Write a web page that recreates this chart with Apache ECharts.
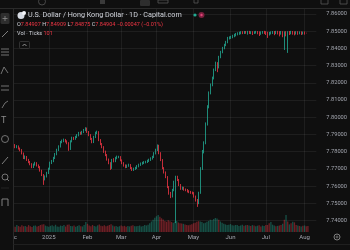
<!DOCTYPE html>
<html><head><meta charset="utf-8">
<script src="https://cdn.jsdelivr.net/npm/echarts@6/dist/echarts.min.js"></script>
<style>html,body{margin:0;padding:0;background:#0f0f0f}#c{width:350px;height:250px}</style>
</head><body><div id="c"></div>
<script>
// ---- data ----
const startDate = '2024-11-21';   // first weekday slot (hidden behind left toolbar)
const slotCount = 190;
const firstCandleIndex = 7;       // 2024-12-02
const tickDates = ['2024-12-02','2025-01-01','2025-02-03','2025-03-03','2025-04-01','2025-05-01','2025-06-02','2025-07-01','2025-08-01'];
const tickLabels = ['Dec','2025','Feb','Mar','Apr','May','Jun','Jul','Aug'];

const opens = [
7.7828,7.7835,7.7839,7.7827,7.7832,7.7818,7.7810,7.7790,7.7763,7.7770,
7.7752,7.7740,7.7728,7.7711,7.7725,7.7734,7.7720,7.7711,7.7690,7.7665,
7.7640,7.7655,7.7676,7.7700,7.7735,7.7745,7.7763,7.7785,7.7810,7.7830,
7.7856,7.7862,7.7868,7.7860,7.7850,7.7815,7.7860,7.7880,7.7875,7.7885,
7.7895,7.7909,7.7905,7.7914,7.7925,7.7935,7.7915,7.7897,7.7875,7.7856,
7.7885,7.7909,7.7914,7.7868,7.7845,7.7827,7.7800,7.7781,7.7755,7.7734,
7.7705,7.7752,7.7745,7.7763,7.7769,7.7769,7.7750,7.7734,7.7720,7.7711,
7.7718,7.7723,7.7705,7.7694,7.7700,7.7705,7.7715,7.7723,7.7730,7.7734,
7.7738,7.7740,7.7746,7.7752,7.7760,7.7769,7.7790,7.7810,7.7835,7.7792,
7.7752,7.7705,7.7680,7.7653,7.7595,7.7560,7.7540,7.7577,7.7624,7.7653,
7.7636,7.7607,7.7585,7.7590,7.7580,7.7577,7.7570,7.7566,7.7562,7.7560,
7.7540,7.7519,7.7500,7.7560,7.7700,7.7800,7.7850,7.7960,7.8060,7.8141,
7.8188,7.8228,7.8275,7.8315,7.8290,7.8350,7.8379,7.8402,7.8420,7.8437,
7.8461,7.8463,7.8466,7.8472,7.8478,7.8483,7.8487,7.8490,7.8495,7.8492,
7.8497,7.8494,7.8498,7.8493,7.8496,7.8491,7.8495,7.8498,7.8494,7.8490,
7.8493,7.8497,7.8495,7.8492,7.8486,7.8490,7.8494,7.8496,7.8493,7.8497,
7.8495,7.8492,7.8496,7.8490,7.8494,7.8491,7.8495,7.8493,7.8497,7.8494,
7.8491,7.8495,7.8492,7.8494,7.8491,7.8493,7.84907
];
const closes = [
7.7835,7.7839,7.7827,7.7832,7.7818,7.7810,7.7790,7.7763,7.7770,7.7752,
7.7740,7.7728,7.7711,7.7725,7.7734,7.7720,7.7711,7.7690,7.7665,7.7640,
7.7655,7.7676,7.7700,7.7735,7.7745,7.7763,7.7785,7.7810,7.7830,7.7856,
7.7862,7.7868,7.7860,7.7850,7.7815,7.7860,7.7880,7.7875,7.7885,7.7895,
7.7909,7.7905,7.7914,7.7925,7.7935,7.7915,7.7897,7.7875,7.7856,7.7885,
7.7909,7.7914,7.7868,7.7845,7.7827,7.7800,7.7781,7.7755,7.7734,7.7705,
7.7752,7.7745,7.7763,7.7769,7.7769,7.7750,7.7734,7.7720,7.7711,7.7718,
7.7723,7.7705,7.7694,7.7700,7.7705,7.7715,7.7723,7.7730,7.7734,7.7738,
7.7740,7.7746,7.7752,7.7760,7.7769,7.7790,7.7810,7.7835,7.7792,7.7752,
7.7705,7.7680,7.7653,7.7595,7.7560,7.7540,7.7577,7.7624,7.7653,7.7636,
7.7607,7.7585,7.7590,7.7580,7.7577,7.7570,7.7566,7.7562,7.7560,7.7540,
7.7519,7.7500,7.7560,7.7700,7.7800,7.7850,7.7960,7.8060,7.8141,7.8188,
7.8228,7.8275,7.8315,7.8290,7.8350,7.8379,7.8402,7.8420,7.8437,7.8461,
7.8463,7.8466,7.8472,7.8478,7.8483,7.8487,7.8490,7.8495,7.8492,7.8497,
7.8494,7.8498,7.8493,7.8496,7.8491,7.8495,7.8498,7.8494,7.8490,7.8493,
7.8497,7.8495,7.8492,7.8486,7.8490,7.8494,7.8496,7.8493,7.8497,7.8495,
7.8492,7.8496,7.8490,7.8494,7.8491,7.8495,7.8493,7.8497,7.8494,7.8491,
7.8495,7.8492,7.8494,7.8491,7.8493,7.84907,7.84904
];
const highs = [
7.7842,7.7846,7.7844,7.7838,7.7836,7.7824,7.7815,7.7795,7.7778,7.7775,
7.7758,7.7746,7.7733,7.7731,7.7741,7.7739,7.7726,7.7716,7.7695,7.7670,
7.7662,7.7683,7.7707,7.7742,7.7752,7.7770,7.7792,7.7817,7.7837,7.7862,
7.7870,7.7876,7.7874,7.7866,7.7855,7.7866,7.7887,7.7886,7.7892,7.7902,
7.7915,7.7916,7.7921,7.7932,7.7942,7.7940,7.7920,7.7902,7.7880,7.7892,
7.7916,7.7922,7.7919,7.7873,7.7850,7.7832,7.7806,7.7786,7.7760,7.7739,
7.7758,7.7762,7.7770,7.7777,7.7776,7.7774,7.7755,7.7739,7.7726,7.7725,
7.7730,7.7728,7.7710,7.7707,7.7712,7.7722,7.7730,7.7737,7.7741,7.7745,
7.7747,7.7753,7.7759,7.7767,7.7776,7.7797,7.7817,7.7842,7.7840,7.7797,
7.7757,7.7710,7.7685,7.7658,7.7600,7.7566,7.7584,7.7631,7.7660,7.7660,
7.7641,7.7612,7.7597,7.7596,7.7586,7.7583,7.7576,7.7572,7.7568,7.7565,
7.7545,7.7525,7.7567,7.7710,7.7810,7.7860,7.7970,7.8070,7.8150,7.8196,
7.8236,7.8283,7.8323,7.8320,7.8357,7.8386,7.8409,7.8427,7.8444,7.8467,
7.8470,7.8473,7.8479,7.8485,7.8490,7.8494,7.8497,7.8500,7.8500,7.8501,
7.8501,7.8502,7.8502,7.8500,7.8500,7.8500,7.8502,7.8501,7.8499,7.8499,
7.8501,7.8502,7.8500,7.8497,7.8496,7.8499,7.8501,7.8501,7.8502,7.8502,
7.8500,7.8501,7.8500,7.8499,7.8500,7.8500,7.8501,7.8502,7.8501,7.8499,
7.8500,7.8500,7.8499,7.8499,7.8498,7.8498,7.84909
];
const lows = [
7.7822,7.7828,7.7820,7.7820,7.7812,7.7802,7.7784,7.7757,7.7756,7.7746,
7.7733,7.7721,7.7704,7.7705,7.7719,7.7714,7.7704,7.7684,7.7658,7.7607,
7.7633,7.7650,7.7670,7.7695,7.7728,7.7739,7.7757,7.7779,7.7804,7.7824,
7.7849,7.7855,7.7853,7.7843,7.7805,7.7810,7.7854,7.7868,7.7869,7.7879,
7.7889,7.7898,7.7899,7.7908,7.7919,7.7909,7.7890,7.7868,7.7849,7.7850,
7.7879,7.7902,7.7861,7.7838,7.7820,7.7793,7.7774,7.7748,7.7727,7.7694,
7.7700,7.7738,7.7739,7.7756,7.7762,7.7744,7.7727,7.7713,7.7704,7.7705,
7.7712,7.7699,7.7688,7.7688,7.7694,7.7699,7.7709,7.7717,7.7724,7.7728,
7.7732,7.7734,7.7740,7.7746,7.7754,7.7763,7.7784,7.7804,7.7785,7.7745,
7.7698,7.7673,7.7646,7.7588,7.7550,7.7530,7.7534,7.7570,7.7385,7.7629,
7.7600,7.7578,7.7578,7.7573,7.7570,7.7563,7.7559,7.7555,7.7552,7.7533,
7.7510,7.7479,7.7495,7.7555,7.7694,7.7790,7.7843,7.7952,7.8052,7.8133,
7.8180,7.8220,7.8268,7.8262,7.8284,7.8343,7.8372,7.8395,7.8413,7.8430,
7.8452,7.8455,7.8459,7.8465,7.8470,7.8476,7.8479,7.8482,7.8483,7.8484,
7.8485,7.8480,7.8484,7.8483,7.8478,7.8484,7.8486,7.8482,7.8472,7.8479,
7.8485,7.8484,7.8478,7.8461,7.8475,7.8481,7.8484,7.8477,7.8483,7.8481,
7.8470,7.8480,7.8465,7.8391,7.8470,7.8374,7.8478,7.8482,7.8480,7.8476,
7.8481,7.8479,7.8482,7.8478,7.8481,7.8480,7.84875
];
const volumes = [
95,110,88,120,102,92,115,98,105,90,118,100,86,108,
112,95,104,120,128,135,110,98,92,106,115,100,124,96,88,110,102,118,94,125,
130,105,98,112,90,104,116,100,95,122,170,140,110,98,120,105,96,114,128,108,
100,115,98,106,120,132,110,96,104,92,100,112,98,106,90,102,95,108,115,100,
98,105,110,96,104,118,112,125,150,180,210,245,270,290,260,235,215,190,175,200,
185,170,160,175,190,165,150,145,140,130,120,115,125,135,150,160,175,185,180,170,
150,160,175,190,210,200,225,240,230,210,180,160,140,130,120,125,135,115,110,120,
118,105,112,125,108,115,120,110,104,118,112,100,108,115,96,110,104,118,120,150,
170,125,110,98,105,112,120,140,210,290,180,130,150,175,165,118,110,104,96,108,112,100,101
];
const lastClose = 7.84904;
const lastVolume = 101;

// ---- build ----
function weekdays(start, n) {
  const out = []; const d = new Date(start + 'T00:00:00Z');
  while (out.length < n) { const w = d.getUTCDay(); if (w !== 0 && w !== 6) out.push(d.toISOString().slice(0, 10)); d.setUTCDate(d.getUTCDate() + 1); }
  return out;
}
const dates = weekdays(startDate, slotCount);
const tickMap = {}; tickDates.forEach((d, i) => tickMap[d] = tickLabels[i]);
const isTick = (idx, val) => tickMap[val] !== undefined;

const UP = '#22ab94', DOWN = '#f23645';
const candleData = dates.map(() => '-');
const volData = dates.map(() => '-');
for (let k = 0; k < closes.length; k++) {
  const i = firstCandleIndex + k;
  candleData[i] = [opens[k], closes[k], lows[k], highs[k]];
  volData[i] = { value: volumes[k], itemStyle: { color: closes[k] >= opens[k] ? 'rgba(34,171,148,0.42)' : 'rgba(242,54,69,0.42)' } };
}

const FONT = 'Roboto, "Liberation Sans", sans-serif';
const AXC = '#a3a6af';
const GRIDC = 'rgba(242,242,242,0.07)';
const ICON = '#8c8c8c';

const chart = echarts.init(document.getElementById('c'), null, { renderer: 'canvas' });
chart.setOption({
  animation: false,
  backgroundColor: '#0f0f0f',
  textStyle: { fontFamily: FONT },
  grid: [
    { left: 0, right: 32, top: 14, height: 206.5 },
    { left: 0, right: 32, top: 190, height: 42 },
    { left: 0, right: 32, top: 9, height: 223 }
  ],
  xAxis: [
    { type: 'category', gridIndex: 0, data: dates, boundaryGap: false, axisLine: { show: false }, axisTick: { show: false }, axisLabel: { show: false }, splitLine: { show: false } },
    { type: 'category', gridIndex: 1, data: dates, boundaryGap: false, axisLine: { show: false }, axisTick: { show: false }, splitLine: { show: false },
      axisLabel: { interval: isTick, formatter: v => tickMap[v] || '', color: AXC, fontSize: 6, fontFamily: FONT, margin: 2 } },
    { type: 'category', gridIndex: 2, data: dates, boundaryGap: false, axisLine: { show: false }, axisTick: { show: false }, axisLabel: { show: false },
      splitLine: { show: true, interval: isTick, lineStyle: { color: GRIDC, width: 1 } } }
  ],
  yAxis: [
    { type: 'value', gridIndex: 0, position: 'right', min: 7.74, max: 7.86, interval: 0.01, scale: true,
      axisLine: { show: false }, axisTick: { show: false },
      axisLabel: { color: AXC, fontSize: 5.7, fontFamily: FONT, margin: 10, formatter: v => v.toFixed(5) },
      splitLine: { lineStyle: { color: GRIDC, width: 1 } } },
    { type: 'value', gridIndex: 1, min: 0, max: 720, show: false },
    { type: 'value', gridIndex: 2, min: 0, max: 1, show: false }
  ],
  series: [
    { type: 'candlestick', xAxisIndex: 0, yAxisIndex: 0, data: candleData, barWidth: 1.2, clip: false,
      itemStyle: { color: UP, color0: DOWN, borderColor: UP, borderColor0: DOWN, borderWidth: 0.8 },
      markLine: { silent: true, symbol: ['none', 'none'], lineStyle: { opacity: 0 },
        label: { show: true, position: 'end', distance: 6, formatter: lastClose.toFixed(5), backgroundColor: '#f23645', color: '#ffffff', fontSize: 5.7, fontFamily: FONT, padding: [1.5, 2, 1, 2] },
        data: [{ yAxis: lastClose }] } },
    { type: 'bar', xAxisIndex: 1, yAxisIndex: 1, data: volData, barWidth: 1.3,
      markLine: { silent: true, symbol: ['none', 'none'], lineStyle: { opacity: 0 },
        label: { show: true, position: 'end', distance: 10, formatter: String(lastVolume), backgroundColor: '#f7525f', color: '#ffffff', fontSize: 5.7, fontFamily: FONT, padding: [1.5, 2, 1, 2] },
        data: [{ yAxis: lastVolume }] } }
  ],
  graphic: [
    // left toolbar
    { type: 'rect', z: 100, shape: { x: 0, y: 9, width: 13.5, height: 241 }, style: { fill: '#0f0f0f' } },
    { type: 'line', z: 101, shape: { x1: 13.5, y1: 9, x2: 13.5, y2: 250 }, style: { stroke: '#2a2a2a', lineWidth: 1 } },
    // top toolbar
    { type: 'rect', z: 100, shape: { x: 0, y: 0, width: 350, height: 8.5 }, style: { fill: '#0f0f0f' } },
    { type: 'line', z: 101, shape: { x1: 0, y1: 8.5, x2: 350, y2: 8.5 }, style: { stroke: '#2a2a2a', lineWidth: 1 } },
    { type: 'circle', z: 101, shape: { cx: 42, cy: 1.5, r: 3.5 }, style: { fill: 'none', stroke: '#555', lineWidth: 0.8 } },
    { type: 'rect', z: 101, shape: { x: 100, y: 0, width: 5, height: 4 }, style: { fill: '#3a3a3a' } },
    { type: 'rect', z: 101, shape: { x: 140, y: 0, width: 10, height: 6, r: 1 }, style: { fill: '#2e2e2e' } },
    { type: 'rect', z: 101, shape: { x: 158, y: 0, width: 10, height: 3 }, style: { fill: 'none', stroke: '#555', lineWidth: 0.8 } },
    { type: 'rect', z: 101, shape: { x: 194, y: -1, width: 4, height: 4 }, style: { fill: 'none', stroke: '#555', lineWidth: 0.8 } },
    { type: 'rect', z: 101, shape: { x: 321, y: -2, width: 7, height: 6 }, style: { fill: 'none', stroke: '#555', lineWidth: 0.8 } },
    { type: 'rect', z: 101, shape: { x: 340, y: -2, width: 7, height: 6 }, style: { fill: 'none', stroke: '#555', lineWidth: 0.8 } },
    // left toolbar icons
    { type: 'rect', z: 101, shape: { x: 0.5, y: 13, width: 9, height: 11, r: 1.5 }, style: { fill: '#2e2e2e' } },
    { type: 'polyline', z: 102, shape: { points: [[2.5, 18.5], [7.5, 18.5]] }, style: { stroke: ICON, lineWidth: 0.8 } },
    { type: 'polyline', z: 102, shape: { points: [[5, 16], [5, 21]] }, style: { stroke: ICON, lineWidth: 0.8 } },
    { type: 'polyline', z: 101, shape: { points: [[2, 37], [8, 31]] }, style: { stroke: ICON, lineWidth: 0.9 } },
    { type: 'polyline', z: 101, shape: { points: [[1, 49], [9, 49]] }, style: { stroke: ICON, lineWidth: 0.8 } },
    { type: 'polyline', z: 101, shape: { points: [[1, 52], [9, 52]] }, style: { stroke: ICON, lineWidth: 0.8 } },
    { type: 'polyline', z: 101, shape: { points: [[1, 55], [9, 55]] }, style: { stroke: ICON, lineWidth: 0.8 } },
    { type: 'polyline', z: 101, shape: { points: [[1, 74], [4, 67], [8, 73]] }, style: { stroke: ICON, lineWidth: 0.8 } },
    { type: 'polyline', z: 101, shape: { points: [[1, 86], [9, 86]] }, style: { stroke: ICON, lineWidth: 0.8 } },
    { type: 'polyline', z: 101, shape: { points: [[1, 90], [9, 90]] }, style: { stroke: ICON, lineWidth: 0.8 } },
    { type: 'polyline', z: 101, shape: { points: [[2, 108], [5, 103], [8, 101]] }, style: { stroke: ICON, lineWidth: 0.8 } },
    { type: 'text', z: 101, x: 1, y: 121, style: { text: 'T', fill: ICON, font: '9px ' + FONT, verticalAlign: 'middle' } },
    { type: 'circle', z: 101, shape: { cx: 5, cy: 139, r: 3.5 }, style: { fill: 'none', stroke: ICON, lineWidth: 0.8 } },
    { type: 'polyline', z: 101, shape: { points: [[2, 164], [8, 157]] }, style: { stroke: ICON, lineWidth: 0.9 } },
    { type: 'circle', z: 101, shape: { cx: 5, cy: 177, r: 3 }, style: { fill: 'none', stroke: ICON, lineWidth: 0.8 } },
    { type: 'polyline', z: 101, shape: { points: [[7, 179], [9, 181]] }, style: { stroke: ICON, lineWidth: 0.8 } },
    { type: 'polyline', z: 101, shape: { points: [[1, 188], [9, 188]] }, style: { stroke: '#2a2a2a', lineWidth: 0.8 } },
    { type: 'polyline', z: 101, shape: { points: [[2, 206], [2, 199], [8, 199], [8, 206]] }, style: { stroke: ICON, lineWidth: 0.9, fill: 'none' } },
    // legend
    { type: 'circle', z: 101, shape: { cx: 21, cy: 15.5, r: 3.5 }, style: { fill: '#d6dbe3' } },
    { type: 'circle', z: 102, shape: { cx: 24, cy: 13, r: 2 }, style: { fill: '#f4f6f9' } },
    { type: 'text', z: 101, x: 28, y: 15.5, style: { text: 'U.S. Dollar / Hong Kong Dollar · 1D · Capital.com', fill: '#d1d4dc', font: '7.2px ' + FONT, verticalAlign: 'middle' } },
    { type: 'circle', z: 101, shape: { cx: 195, cy: 15, r: 1.6 }, style: { fill: '#22ab94' } },
    { type: 'circle', z: 101, shape: { cx: 201.5, cy: 15, r: 3 }, style: { fill: '#7a1f3d' } },
    { type: 'circle', z: 102, shape: { cx: 201.5, cy: 15, r: 1.2 }, style: { fill: '#e0457b' } },
    { type: 'text', z: 101, x: 17, y: 25, style: {
        text: '{l|O}{v|7.84907} {l|H}{v|7.84909} {l|L}{v|7.84875} {l|C}{v|7.84904} {v|−0.00047 (−0.01%)}',
        verticalAlign: 'middle', fontSize: 5.5, fontFamily: FONT,
        rich: { l: { fill: '#d1d4dc', fontSize: 5.5, fontFamily: FONT }, v: { fill: '#f23645', fontSize: 5.5, fontFamily: FONT } } } },
    { type: 'text', z: 101, x: 17, y: 34, style: {
        text: '{l|Vol · Ticks} {v|101}',
        verticalAlign: 'middle', fontSize: 5.5, fontFamily: FONT,
        rich: { l: { fill: '#d1d4dc', fontSize: 5.5, fontFamily: FONT }, v: { fill: '#f23645', fontSize: 5.5, fontFamily: FONT } } } },
    { type: 'rect', z: 101, shape: { x: 19.5, y: 41.5, width: 10, height: 7, r: 1 }, style: { fill: 'none', stroke: '#3a3a3a', lineWidth: 0.8 } },
    { type: 'polyline', z: 101, shape: { points: [[22.5, 46], [24.5, 44], [26.5, 46]] }, style: { stroke: '#b0b0b0', lineWidth: 0.8 } },
    // bottom
    { type: 'line', z: 101, shape: { x1: 13.5, y1: 244.5, x2: 350, y2: 244.5 }, style: { stroke: '#1f1f1f', lineWidth: 1 } },
    { type: 'circle', z: 101, shape: { cx: 337, cy: 237, r: 3 }, style: { fill: 'none', stroke: '#9a9a9a', lineWidth: 0.8 } },
    { type: 'circle', z: 101, shape: { cx: 337, cy: 237, r: 1 }, style: { fill: 'none', stroke: '#9a9a9a', lineWidth: 0.6 } }
  ]
});
</script></body></html>
